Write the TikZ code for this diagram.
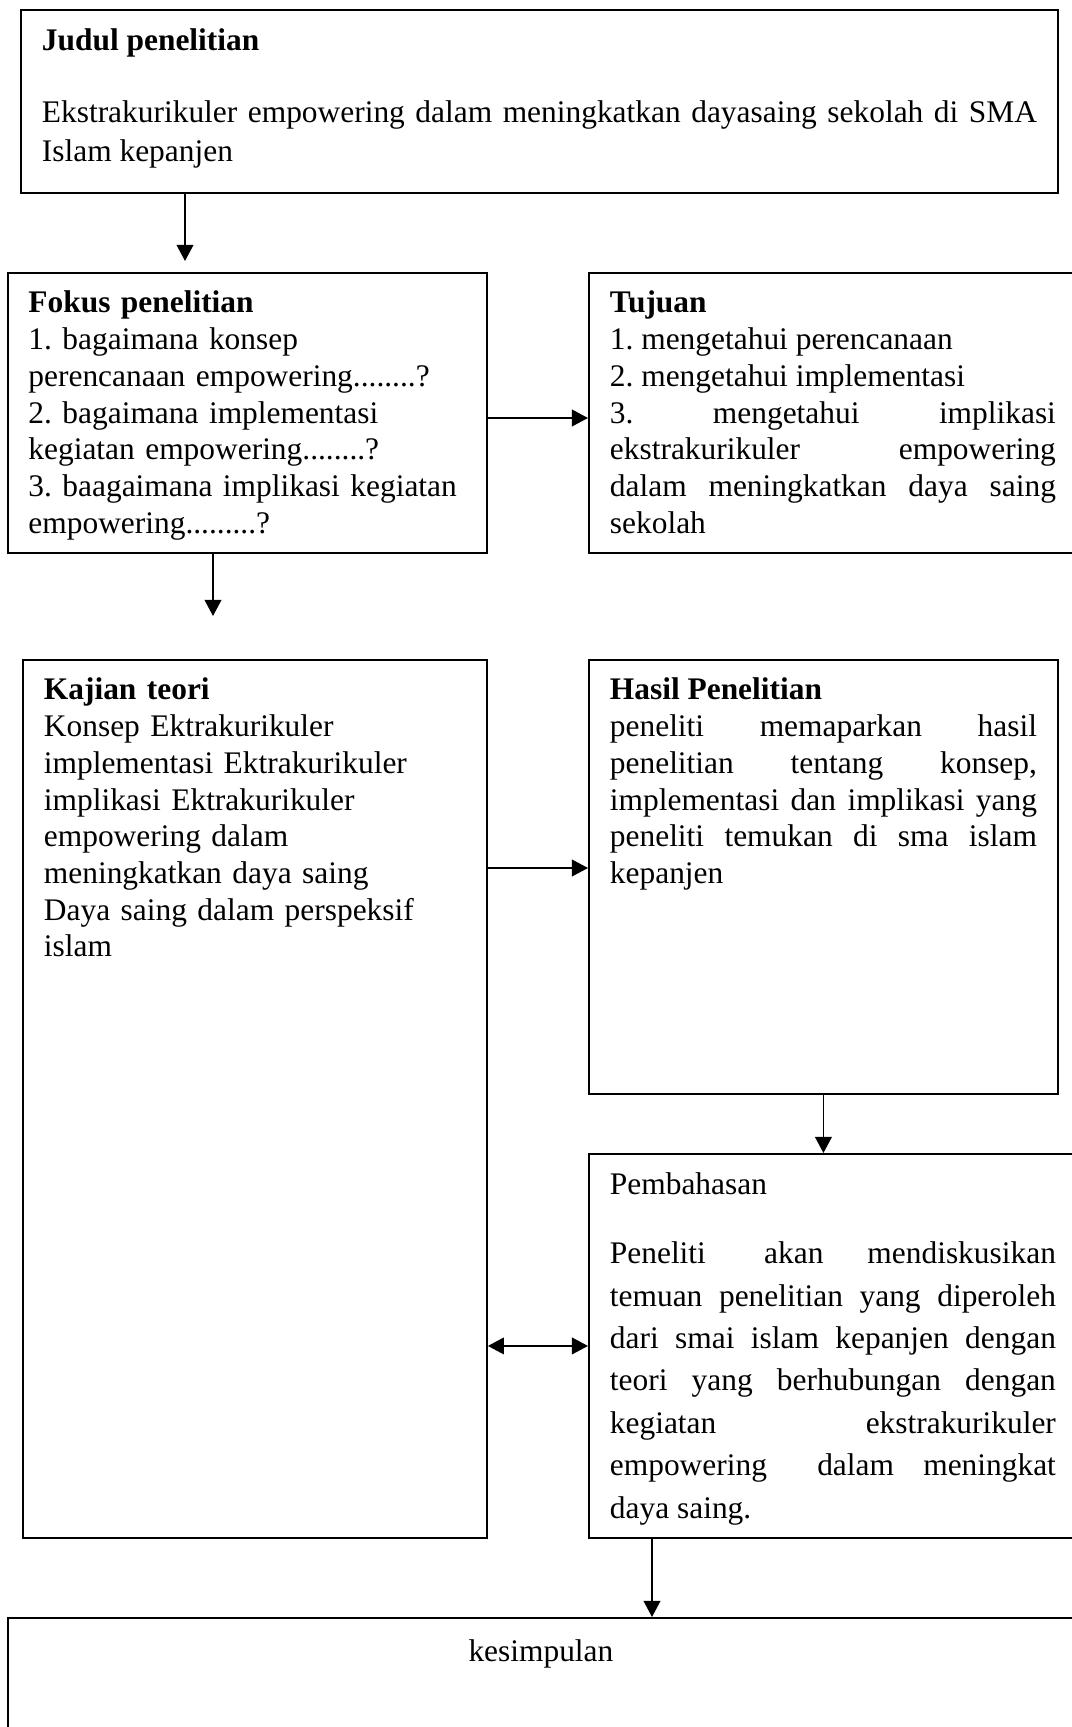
\documentclass[tikz,border=0pt]{standalone}
\usepackage{fontspec}
\setmainfont{Liberation Serif}
\usetikzlibrary{arrows.meta}

\begin{document}
\begin{tikzpicture}[x=0.374pt, y=-0.374pt, line width=0.7pt,
    kotak/.style={draw, anchor=north west, inner xsep=7.85pt, inner ysep=0pt, align=justify,
      font=\fontsize{11.75}{13.73}\selectfont\frenchspacing},
    >={Triangle[length=6pt,width=6.2pt]}]
  \useasboundingbox (0,0) rectangle (1072,1727);
  \clip (0,0) rectangle (1072,1727);

  \node[kotak, text width=372.13pt, text height=15pt, text depth=53.48pt,
        font=\fontsize{11.75}{14.44}\selectfont\frenchspacing] (judul) at (20,9)
    {\textbf{Judul penelitian}\\[12.75pt]
     Ekstrakurikuler empowering dalam meningkatkan dayasaing sekolah di SMA\linebreak Islam kepanjen};
  \node[kotak, inner xsep=7.67pt, text width=163.8pt, text height=14.96pt, text depth=89.76pt, align=left] (fokus) at (7,272)
    {\textbf{Fokus penelitian}\\1. bagaimana konsep\\perencanaan empowering........?\\2. bagaimana implementasi\\
     kegiatan empowering........?\\3. baagaimana implikasi kegiatan\\empowering.........?};
  \node[kotak, text width=166.8pt, text height=14.96pt, text depth=89.76pt] (tujuan) at (588,272)
    {\textbf{Tujuan}\\1. mengetahui perencanaan\\2. mengetahui implementasi\\3. mengetahui implikasi\linebreak
     ekstrakurikuler empowering\linebreak dalam meningkatkan daya saing\linebreak sekolah};
  \node[kotak, text width=157.83pt, text height=14.96pt, text depth=313.4pt, align=left] (kajian) at (22,659)
    {\textbf{Kajian teori}\\Konsep Ektrakurikuler\\implementasi Ektrakurikuler\\implikasi Ektrakurikuler\\
     empowering dalam\\meningkatkan daya saing\\Daya saing dalam perspeksif\\islam};
  \node[kotak, text width=159.7pt, text height=14.96pt, text depth=147.36pt] (hasil) at (588,659)
    {\textbf{Hasil Penelitian}\\peneliti memaparkan hasil\linebreak penelitian tentang konsep,\linebreak
     implementasi dan implikasi yang\linebreak peneliti temukan di sma islam\linebreak kepanjen};
  \node[kotak, text width=166.8pt, text height=15.2pt, text depth=128.42pt,
        font=\fontsize{11.75}{15.86}\selectfont\frenchspacing] (pembahasan) at (588,1153)
    {Pembahasan\\[9.95pt]Peneliti\hspace{5.35pt} akan mendiskusikan\linebreak temuan penelitian yang diperoleh\linebreak
     dari smai islam kepanjen dengan\linebreak teori yang berhubungan dengan\linebreak kegiatan ekstrakurikuler\linebreak
     empowering\hspace{7.85pt} dalam meningkat\linebreak daya saing.};
  \node[kotak, text width=382.98pt, text height=16.2pt, text depth=73.6pt, align=center] (kesimpulan) at (7,1617)
    {kesimpulan};

  % ujung panah dan titik bantu
  \coordinate (ujung1) at (185,261);
  \coordinate (ujung2) at (213,616);
  \coordinate (kanan1) at (0,418);
  \coordinate (kanan2) at (0,868);
  \coordinate (turun) at (652,0);

  \draw[->] (judul.south -| ujung1) -- (ujung1);
  \draw[->] (fokus.east |- kanan1) -- (tujuan.west |- kanan1);
  \draw[->] (fokus.south -| ujung2) -- (ujung2);
  \draw[->] (kajian.east |- kanan2) -- (hasil.west |- kanan2);
  \draw[->] (hasil.south) -- (hasil.south |- pembahasan.north);
  \draw[<->] (kajian.east |- pembahasan.west) -- (pembahasan.west);
  \draw[->] (pembahasan.south -| turun) -- (kesimpulan.north -| turun);
\end{tikzpicture}
\end{document}
